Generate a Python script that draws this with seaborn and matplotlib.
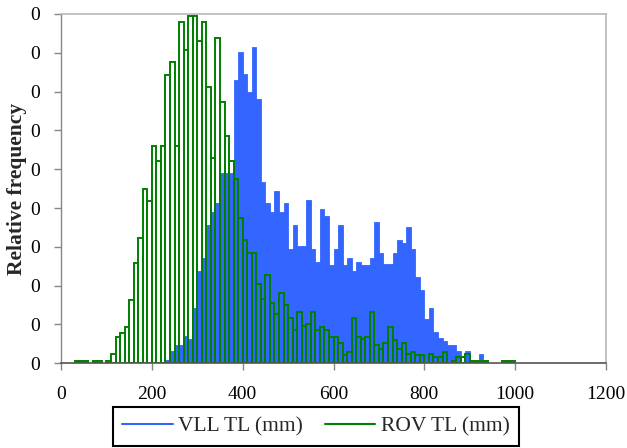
import numpy as np
import pandas as pd
import matplotlib
matplotlib.use("Agg")
import matplotlib.pyplot as plt
import seaborn as sns
from matplotlib.lines import Line2D
from matplotlib.ticker import FuncFormatter

# ---------------- data (relative frequency per 10 mm length class) ----------------
vll_bin_start = list(range(230, 930, 10))
vll_freq = [
    0.00045, 0.0016, 0.00235, 0.00235, 0.00355, 0.00315, 0.00715, 0.0119, 0.01355, 0.0178,
    0.01945, 0.0207, 0.02455, 0.02455, 0.02455, 0.0365, 0.0401, 0.0373, 0.0349, 0.0408,
    0.03405, 0.0234, 0.0206, 0.01945, 0.0222, 0.01945, 0.0206, 0.0147, 0.01785, 0.0151,
    0.0151, 0.02105, 0.0147, 0.0131, 0.01985, 0.019, 0.01265, 0.0147, 0.01785, 0.01265,
    0.01355, 0.01195, 0.0131, 0.01265, 0.01265, 0.01355, 0.01825, 0.01425, 0.0128, 0.0128,
    0.01425, 0.0159, 0.01545, 0.0175, 0.0147, 0.01115, 0.00945, 0.00565, 0.0071, 0.004,
    0.0033, 0.0029, 0.00235, 0.00235, 0.0016, 0.0, 0.0016, 0.0, 0.0, 0.0012,
]

rov_bin_start = list(range(30, 1000, 10))
rov_freq = [
    0.00035, 0.00035, 0.00035, 0.0, 0.00035, 0.00035, 0.0, 0.00035, 0.00115, 0.00345,
    0.00385, 0.00465, 0.0082, 0.01295, 0.0162, 0.02245, 0.0209, 0.02805, 0.0261, 0.02805,
    0.0372, 0.0388, 0.02805, 0.04395, 0.0404, 0.04475, 0.04475, 0.04155, 0.04395, 0.03565,
    0.0265, 0.04195, 0.03365, 0.0293, 0.02605, 0.0237, 0.01875, 0.01585, 0.0142, 0.0142,
    0.0102, 0.00825, 0.0114, 0.0078, 0.00635, 0.009, 0.00745, 0.00585, 0.0043, 0.00665,
    0.00475, 0.0051, 0.00665, 0.00425, 0.0047, 0.0043, 0.00345, 0.00345, 0.00265, 0.0011,
    0.0015, 0.00585, 0.00345, 0.00315, 0.00345, 0.00665, 0.0023, 0.0019, 0.00265, 0.0047,
    0.00305, 0.0019, 0.00265, 0.00115, 0.0015, 0.0011, 0.0011, 0.0, 0.00115, 0.00075,
    0.00075, 0.0015, 0.0, 0.00035, 0.00075, 0.00075, 0.00115, 0.00035, 0.00035, 0.00035,
    0.00035, 0.0, 0.0, 0.0, 0.00035, 0.00035, 0.00035,
]

x_ticks = [0, 200, 400, 600, 800, 1000, 1200]
y_ticks = [0.0, 0.005, 0.010, 0.015, 0.020, 0.025, 0.030, 0.035, 0.040, 0.045]
series_labels = ["VLL TL (mm)", "ROV TL (mm)"]
y_label = "Relative frequency"

# ---------------- style ----------------
BLUE = "#3366FF"
GREEN = "#008000"

sns.set_theme(style="ticks")
plt.rcParams["font.family"] = ["Liberation Serif", "DejaVu Serif"]

W, H = 627, 448
fig = plt.figure(figsize=(W / 100, H / 100), dpi=100)
ax = fig.add_axes([61 / W, 1 - 363.3 / H, 545 / W, 349.3 / H])

vll_df = pd.DataFrame({"tl": np.array(vll_bin_start) + 5.0, "freq": vll_freq})
rov_df = pd.DataFrame({"tl": np.array(rov_bin_start) + 5.0, "freq": rov_freq})

sns.histplot(data=vll_df, x="tl", weights="freq", binwidth=10, binrange=(0, 1200),
             stat="count", element="bars", fill=True, color=BLUE, edgecolor=BLUE,
             linewidth=0.6, alpha=1.0, ax=ax)
sns.histplot(data=rov_df, x="tl", weights="freq", binwidth=10, binrange=(0, 1200),
             stat="count", element="bars", fill=False, color=GREEN, linewidth=1.4, ax=ax)

# remove empty (zero-height) bars so no flat lines are drawn along the baseline
for p in list(ax.patches):
    if p.get_height() <= 0:
        p.remove()

ax.set_xlim(0, 1200)
ax.set_ylim(0, 0.045)
ax.set_xticks(x_ticks)
ax.set_yticks(y_ticks)
ax.yaxis.set_major_formatter(FuncFormatter(lambda v, p: f"{v:.0f}"))
ax.set_xlabel("")
ax.set_ylabel(y_label, fontsize=15.5, fontweight="bold")
ax.yaxis.set_label_coords(-0.062, 0.5)

for side in ["top", "right"]:
    ax.spines[side].set_visible(True)
    ax.spines[side].set_color("#B8B8B8")
    ax.spines[side].set_linewidth(1.2)
ax.spines["left"].set_color("#868686")
ax.spines["left"].set_linewidth(1.0)
ax.spines["bottom"].set_color("#555555")
ax.spines["bottom"].set_linewidth(1.2)

ax.tick_params(axis="y", direction="out", length=5, width=1, color="#868686",
               pad=10, labelsize=14, labelcolor="black", left=True)
ax.tick_params(axis="x", direction="out", length=5, width=1, color="#868686",
               pad=11.5, labelsize=14, labelcolor="black", bottom=True)

handles = [Line2D([0], [0], color=BLUE, lw=1.5), Line2D([0], [0], color=GREEN, lw=1.5)]
leg = fig.legend(handles, series_labels, loc="center", bbox_to_anchor=(316 / W, 1 - 426.5 / H),
                 ncol=2, frameon=True, fancybox=False, fontsize=15.5, handlelength=2.35,
                 handletextpad=0.25, columnspacing=1.0, borderpad=0.45, borderaxespad=0)
leg.get_frame().set_edgecolor("black")
leg.get_frame().set_linewidth(1.5)
leg.get_frame().set_alpha(1)

fig.savefig("out.png", dpi=100)
